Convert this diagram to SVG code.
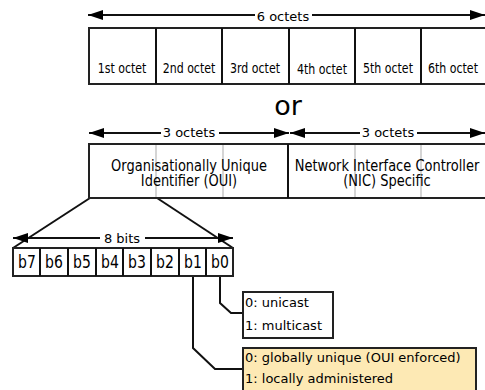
<svg xmlns="http://www.w3.org/2000/svg" width="485" height="390" viewBox="0 0 485 390">
<style>
text{font-family:"DejaVu Sans",Verdana,sans-serif;fill:#000}
.box{fill:#fff;stroke:#222;stroke-width:2}
.ln{fill:none;stroke:#111;stroke-width:2}
.gray{stroke:#c8c8c8;stroke-width:1.5}
.oct{font-size:11px;text-anchor:middle}
.lab{font-size:13px;text-anchor:middle}
.big{font-size:13px;text-anchor:middle}
.bit{font-size:14px;text-anchor:middle}
.opt{font-size:13px}
</style>
<defs>
<marker id="ah" markerUnits="userSpaceOnUse" markerWidth="16" markerHeight="10" refX="15" refY="5" orient="auto">
<path d="M0,0 L15,5 L0,10 z" fill="#000"/>
</marker>
</defs>
<g id="connectors">
<path class="ln" d="M255,15 H88" marker-end="url(#ah)"/>
<path class="ln" d="M312,15 H485" marker-end="url(#ah)"/>
<path class="ln" d="M161,133 H89" marker-end="url(#ah)"/>
<path class="ln" d="M219,133 H289" marker-end="url(#ah)"/>
<path class="ln" d="M360,133 H290" marker-end="url(#ah)"/>
<path class="ln" d="M417,133 H485" marker-end="url(#ah)"/>
<path class="ln" d="M90,198 L13,248"/>
<path class="ln" d="M157,198 L233,248"/>
<path class="ln" d="M100,238 H13" marker-end="url(#ah)"/>
<path class="ln" d="M145,238 H233" marker-end="url(#ah)"/>
<path class="ln" d="M220,276 V303 L231,313 H243"/>
<path class="ln" d="M193,276 V348 L215,369 H243"/>
</g>
<g id="six-octets">
<rect class="box" x="89" y="28" width="400" height="56"/>
<path class="ln" d="M156,28 V84 M222,28 V84 M289,28 V84 M355,28 V84 M421,28 V84"/>
<text class="lab" x="283" y="20.5">6 octets</text>
<text class="oct" transform="matrix(1,0,0,1.22,122,73)">1st octet</text>
<text class="oct" transform="matrix(1,0,0,1.22,189,73)">2nd octet</text>
<text class="oct" transform="matrix(1,0,0,1.22,255,73)">3rd octet</text>
<text class="oct" transform="matrix(1,0,0,1.22,322,74)">4th octet</text>
<text class="oct" transform="matrix(1,0,0,1.22,388,73)">5th octet</text>
<text class="oct" transform="matrix(1,0,0,1.22,453,73)">6th octet</text>
</g>
<text id="or" x="288" y="115" font-size="27" text-anchor="middle">or</text>
<g id="oui-nic">
<rect class="box" x="89" y="144" width="400" height="54"/>
<path class="gray" d="M156,145 V197 M223,145 V197 M355,145 V197 M421,145 V197"/>
<path class="ln" d="M288,144 V198"/>
<text class="lab" x="189" y="137">3 octets</text>
<text class="lab" x="388" y="137">3 octets</text>
<text class="big" transform="matrix(1,0,0,1.25,189,170.5)">Organisationally Unique</text>
<text class="big" transform="matrix(1,0,0,1.25,189,185.5)">Identifier (OUI)</text>
<text class="big" transform="matrix(1,0,0,1.25,387,170.5)">Network Interface Controller</text>
<text class="big" transform="matrix(1,0,0,1.25,387,185.5)">(NIC) Specific</text>
</g>
<g id="bits">
<rect class="box" x="13" y="248" width="220" height="28"/>
<path class="ln" d="M40,248 V276 M68,248 V276 M96,248 V276 M123,248 V276 M151,248 V276 M179,248 V276 M206,248 V276"/>
<text class="lab" x="122" y="242.5" font-size="13.5">8 bits</text>
<text class="bit" transform="matrix(1,0,0,1.25,27,268)">b7</text>
<text class="bit" transform="matrix(1,0,0,1.25,54,268)">b6</text>
<text class="bit" transform="matrix(1,0,0,1.25,82,268)">b5</text>
<text class="bit" transform="matrix(1,0,0,1.25,110,268)">b4</text>
<text class="bit" transform="matrix(1,0,0,1.25,137,268)">b3</text>
<text class="bit" transform="matrix(1,0,0,1.25,165,268)">b2</text>
<text class="bit" transform="matrix(1,0,0,1.25,193,268)">b1</text>
<text class="bit" transform="matrix(1,0,0,1.25,220,268)">b0</text>
</g>
<g id="unicast">
<rect class="box" x="243" y="292" width="90" height="46"/>
<text class="opt" x="245" y="307">0: unicast</text>
<text class="opt" x="245" y="330">1: multicast</text>
</g>
<g id="global-local">
<rect x="243" y="348" width="233" height="50" fill="#fde9b4" stroke="#222" stroke-width="2"/>
<text class="opt" x="245" y="362">0: globally unique (OUI enforced)</text>
<text class="opt" x="245" y="383">1: locally administered</text>
</g>
</svg>
